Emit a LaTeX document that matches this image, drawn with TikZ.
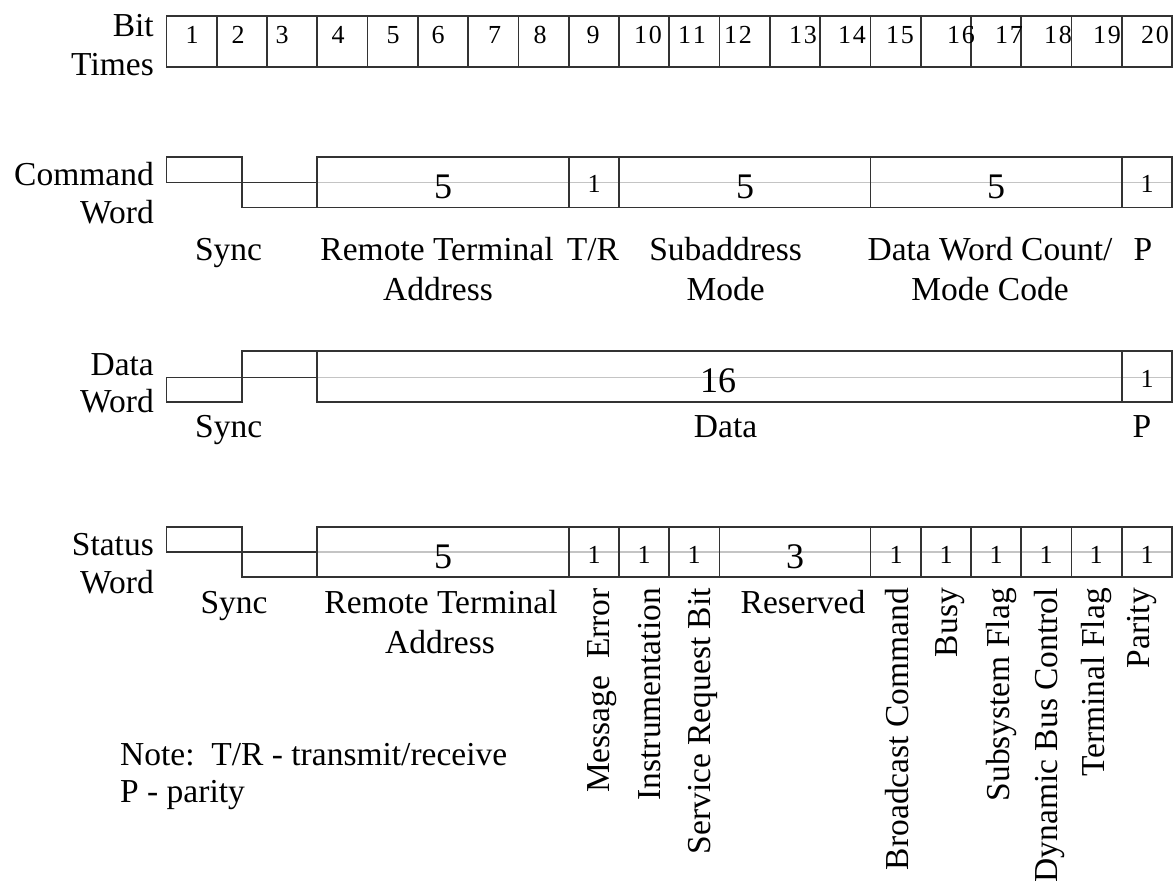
\documentclass[tikz,border=0pt]{standalone}
\usepackage{fontspec}
\setmainfont{Liberation Serif}
\definecolor{linec}{HTML}{333333}
\definecolor{gridc}{HTML}{C4C4C4}
\tikzset{
  frame/.style={draw=linec, line width=1.7pt},
  midline/.style={draw=gridc, line width=1.5pt},
  lbl/.style={inner sep=0pt, font=\fontsize{33.5}{40}\selectfont},
  hlbl/.style={lbl, anchor=base},
  rlbl/.style={lbl, anchor=base east},
  vlbl/.style={lbl, rotate=90, anchor=base east},
  bigdig/.style={inner sep=0pt, font=\fontsize{36}{40}\selectfont, anchor=base},
  smalldig/.style={inner sep=0pt, font=\fontsize{26}{30}\selectfont, anchor=base}
}
\begin{document}
\begin{tikzpicture}[x=1pt,y=-1pt]
\useasboundingbox (0,0) rectangle (1173,881);

% ---------- Bit times ----------
\draw[frame] (166.5,16) rectangle (1172.1,67);
\foreach \i in {1,...,19}
  \draw[frame] ({166.5+50.28*\i},16) -- ({166.5+50.28*\i},67);
\foreach \n/\x/\t in {1/192/1,2/238/2,3/282/3,4/338/4,5/393/5,6/438/6,7/494.5/7,8/540/8,9/593/9,
  10/648/{1\kern2pt 0},11/692/{1\kern2pt 1},12/738/{1\kern2pt 2},13/803/{1\kern2pt 3},14/852/{1\kern2pt 4},
  15/900/{1\kern2pt 5},16/961/{1\kern2pt 6},17/1009/{1\kern2pt 7},18/1058/{1\kern2pt 8},19/1107/{1\kern2pt 9},20/1155/{2\kern2pt 0}}
  \node[smalldig] (bt\n) at (\x,43) {\t};
\node[rlbl] (bitl) at (154,36) {Bit};
\node[rlbl] (timesl) at (154,75) {Times};

% ---------- Command word ----------
\draw[midline] (317.3,182.5) -- (1172.1,182.5);
\draw[frame] (166.5,157) rectangle (241.9,182.5);
\draw[frame] (241.9,182.5) rectangle (317.3,207.5);
\draw[frame] (317.3,157) rectangle (1172.1,207.5);
\foreach \x in {568.7,619.0,870.4,1121.8}
  \draw[frame] (\x,157) -- (\x,207.5);
\node[bigdig] (c5a) at (443,198) {5};
\node[smalldig] (c1a) at (594,192.5) {1};
\node[bigdig] (c5b) at (745,198) {5};
\node[bigdig] (c5c) at (996,198) {5};
\node[smalldig] (c1b) at (1147,192.5) {1};
\node[rlbl] (cmdl) at (154,185) {Command};
\node[rlbl] (cwordl) at (154,223) {Word};
\node[hlbl] (csync) at (228.5,260) {Sync};
\node[hlbl] (crta) at (437,260) {Remote Terminal};
\node[hlbl] (crtb) at (438,300) {Address};
\node[hlbl] (ctr) at (593,260) {T/R};
\node[hlbl] (csa) at (725.6,260) {Subaddress};
\node[hlbl] (csb) at (725.6,300) {Mode};
\node[hlbl] (cdwa) at (990,260) {Data Word Count/};
\node[hlbl] (cdwb) at (990,300) {Mode Code};
\node[hlbl] (cp) at (1143,260) {P};

% ---------- Data word ----------
\draw[midline] (317.3,377.5) -- (1172.1,377.5);
\draw[frame] (166.5,377.5) rectangle (241.9,402.3);
\draw[frame] (241.9,351) rectangle (317.3,377.5);
\draw[frame] (317.3,351) rectangle (1172.1,402.3);
\draw[frame] (1121.8,351) -- (1121.8,402.3);
\node[bigdig] (d16) at (718,392.5) {16};
\node[smalldig] (d1) at (1147,387.5) {1};
\node[rlbl] (datal) at (154,375) {Data};
\node[rlbl] (dwordl) at (154,412) {Word};
\node[hlbl] (dsync) at (228.7,437) {Sync};
\node[hlbl] (ddata) at (725.6,437) {Data};
\node[hlbl] (dp) at (1142,437) {P};

% ---------- Status word ----------
\draw[midline] (317.3,552) -- (1172.1,552);
\draw[frame] (166.5,527) rectangle (241.9,552);
\draw[frame] (241.9,552) rectangle (317.3,577);
\draw[frame] (317.3,527) rectangle (1172.1,577);
\foreach \x in {568.7,619.0,669.3,719.6,870.4,920.7,971.0,1021.3,1071.5,1121.8}
  \draw[frame] (\x,527) -- (\x,577);
\node[bigdig] (s5) at (443,568) {5};
\foreach \n/\x in {a/594,b/644,c/694,d/896,e/946,f/996,g/1046,h/1096,i/1147}
  \node[smalldig] (s1\n) at (\x,563.5) {1};
\node[bigdig] (s3) at (795,568) {3};
\node[rlbl] (statl) at (154,555) {Status};
\node[rlbl] (swordl) at (154,593) {Word};
\node[hlbl] (ssync) at (234,613) {Sync};
\node[hlbl] (srta) at (441,613) {Remote Terminal};
\node[hlbl] (srtb) at (440,653) {Address};
\node[hlbl] (sres) at (803,613) {Reserved};
\node[vlbl] (sme) at (609,588) {Message\ \ Error};
\node[vlbl] (sin) at (660,588) {Instrumentation};
\node[vlbl] (ssr) at (710,588) {Service Request Bit};
\node[vlbl] (sbc) at (908,588) {Broadcast Command};
\node[vlbl] (sbu) at (957,588) {Busy};
\node[vlbl] (ssf) at (1009,588) {Subsystem Flag};
\node[vlbl] (sdb) at (1057,588) {Dynamic Bus Control};
\node[vlbl] (stf) at (1104,588) {Terminal Flag};
\node[vlbl] (spa) at (1149,588) {Parity};

% ---------- Note ----------
\node[lbl, anchor=base west] (note1) at (120,765) {Note:\ \ T/R - transmit/receive};
\node[lbl, anchor=base west] (note2) at (120,802) {P - parity};
\end{tikzpicture}
\end{document}
